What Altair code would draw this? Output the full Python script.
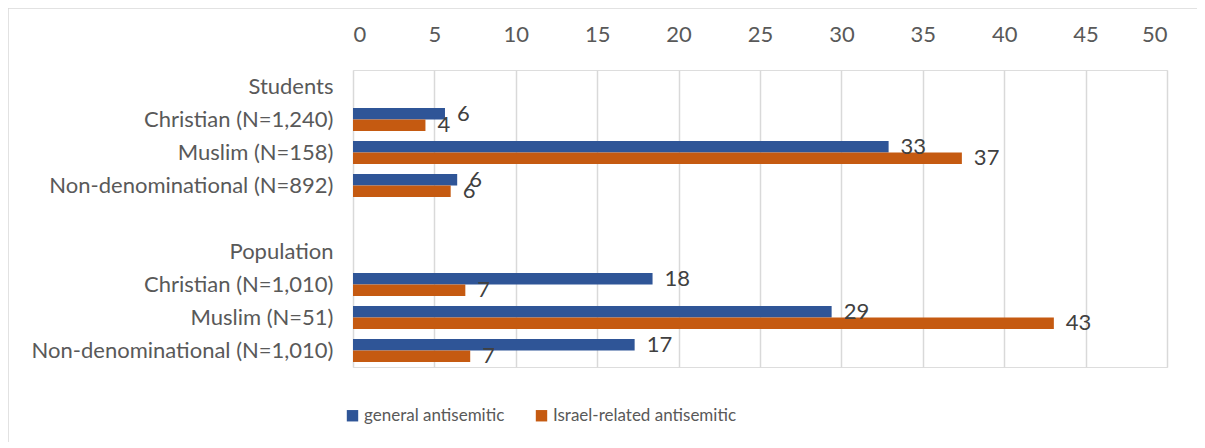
import altair as alt
import pandas as pd

rows = ["Students", "Christian (N=1,240)", "Muslim (N=158)", "Non-denominational (N=892)", " ",
        "Population", "Christian (N=1,010)", "Muslim (N=51)", "Non-denominational (N=1,010)"]
data_rows = ["Christian (N=1,240)", "Muslim (N=158)", "Non-denominational (N=892)",
             "Christian (N=1,010)", "Muslim (N=51)", "Non-denominational (N=1,010)"]
general = [5.65, 32.9, 6.4, 18.4, 29.4, 17.3]
israel = [4.45, 37.4, 6.0, 6.9, 43.05, 7.2]
series = ["general antisemitic", "Israel-related antisemitic"]
colors = ["#2F5597", "#C55A11"]
x_ticks = list(range(0, 55, 5))

recs = []
for r, g, i in zip(data_rows, general, israel):
    recs.append({"group": r, "series": series[0], "value": g})
    recs.append({"group": r, "series": series[1], "value": i})
df = pd.DataFrame(recs)

FONT = "Lato"
FS = 22
W, H = 814, 297

y_enc = alt.Y("group:N", sort=rows, scale=alt.Scale(domain=rows, paddingInner=0.3, paddingOuter=0.15),
              axis=alt.Axis(title=None, ticks=False, domain=False, labelPadding=20, labelLimit=400,
                            labelFontSize=FS, labelColor="#595959", labelFont=FONT, grid=False))
x_enc = alt.X("value:Q", scale=alt.Scale(domain=[0, 50], nice=False),
              axis=alt.Axis(orient="top", title=None, values=x_ticks, ticks=False, domain=False,
                            labelPadding=24, labelFontSize=FS, labelColor="#595959", labelFont=FONT,
                            grid=True, gridColor="#D9D9D9", gridWidth=1.5))
color_enc = alt.Color("series:N", sort=series, scale=alt.Scale(domain=series, range=colors),
                      legend=alt.Legend(title=None, orient="none", legendX=-9, legendY=337,
                                        direction="horizontal", symbolType="square", symbolSize=130,
                                        symbolStrokeWidth=0, labelFontSize=17, labelFont=FONT,
                                        labelLimit=400, labelColor="#595959", columnPadding=28,
                                        labelOffset=3))

base = alt.Chart(df)
bars = base.mark_bar(size=11.5).encode(
    y=y_enc, x=x_enc, color=color_enc,
    yOffset=alt.YOffset("series:N", sort=series, scale=alt.Scale(domain=series)),
)
labels = base.mark_text(align="left", baseline="middle", dx=12, fontSize=FS, font=FONT,
                        color="#404040").encode(
    y=alt.Y("group:N", sort=rows),
    x=alt.X("value:Q"),
    yOffset=alt.YOffset("series:N", sort=series, scale=alt.Scale(domain=series)),
    text=alt.Text("value:Q", format=".0f"),
)
border = alt.Chart(pd.DataFrame({"a": [0]})).mark_rect(
    fill="transparent", stroke="#D9D9D9", strokeWidth=1.5
).encode(x=alt.value(-345), x2=alt.value(W + 60), y=alt.value(-62), y2=alt.value(H + 100))

chart = alt.layer(border, bars, labels).properties(
    width=W, height=H,
    autosize=alt.AutoSizeParams(type="none"),
    padding={"left": 345, "top": 62, "right": 30, "bottom": 75},
).configure_view(stroke=None).configure(background="white")

chart.save("out.html", embed_options={"renderer": "svg", "actions": False})
